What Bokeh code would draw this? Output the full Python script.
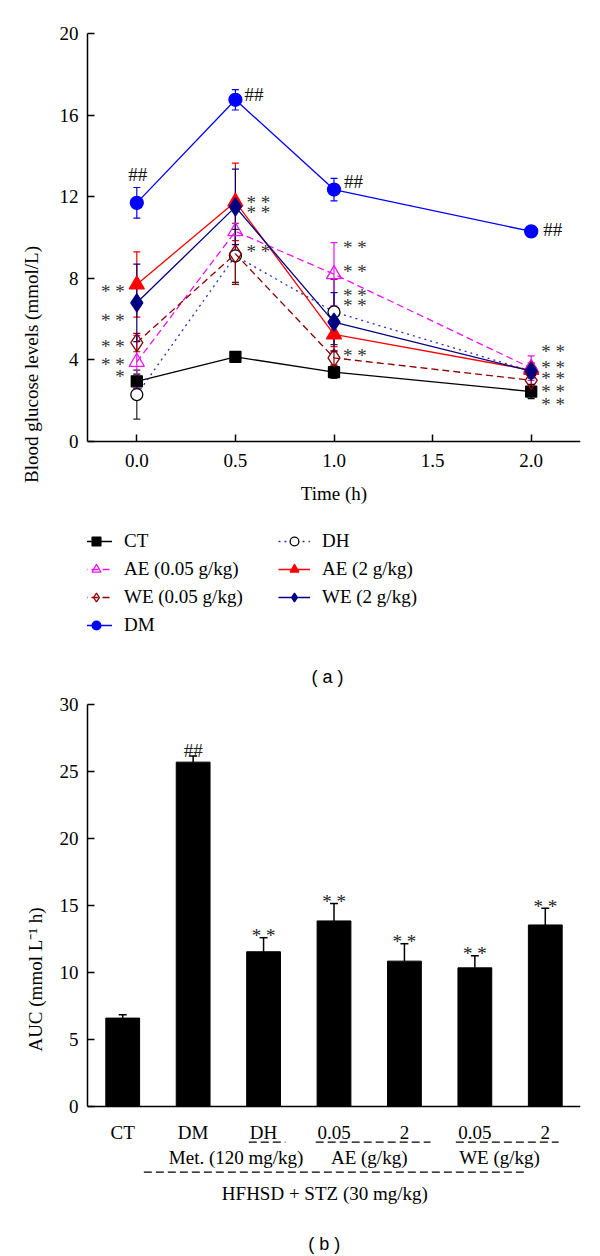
import numpy as np
from bokeh.plotting import figure
from bokeh.models import (ColumnDataSource, Range1d, FixedTicker, Whisker, TeeHead,
                          Legend, LegendItem, NumeralTickFormatter)
from bokeh.layouts import column
from bokeh.embed import file_html
from bokeh.resources import INLINE
from bokeh.core.properties import value

# ---------------- panel (a): blood glucose over time ----------------
time_h = [0.0, 0.5, 1.0, 2.0]
ct_mean = [2.95, 4.15, 3.4, 2.45]
ct_err = [0.35, 0.2, 0.3, 0.35]
dh_mean = [2.3, 9.1, 6.35, 3.45]
dh_err = [1.2, 1.3, 1.6, 0.3]
ae005_mean = [3.9, 10.3, 8.2, 3.6]
ae005_err = [1.3, 1.1, 1.55, 0.6]
ae2_mean = [7.7, 11.75, 5.25, 3.5]
ae2_err = [1.6, 1.9, 0.6, 0.35]
we005_mean = [4.85, 9.2, 4.1, 3.0]
we005_err = [0.45, 1.5, 0.35, 0.3]
we2_mean = [6.8, 11.5, 5.85, 3.45]
we2_err = [1.9, 1.85, 1.45, 0.35]
dm_mean = [11.7, 16.75, 12.35, 10.3]
dm_err = [0.75, 0.5, 0.55, 0.12]

series_names = ["CT", "DH", "AE (0.05 g/kg)", "AE (2 g/kg)", "WE (0.05 g/kg)", "WE (2 g/kg)", "DM"]
series_means = [ct_mean, dh_mean, ae005_mean, ae2_mean, we005_mean, we2_mean, dm_mean]
series_errs = [ct_err, dh_err, ae005_err, ae2_err, we005_err, we2_err, dm_err]

# significance marks (panel a)
hash_time = [0.0, 0.5, 1.0, 2.0]
hash_level = [13.09, 17.0, 12.75, 10.39]
hash_text = ["##", "##", "##", "##"]
star_time = [0, 0, 0, 0, 0, 0.5, 0.5, 0.5, 1, 1, 1, 1, 1, 2, 2, 2, 2, 2]
star_level = [7.55, 6.13, 4.87, 3.97, 3.4, 11.9, 11.4, 9.52,
              9.72, 8.51, 7.37, 6.88, 4.41, 4.59, 3.84, 3.28, 2.63, 2.01]
star_text = ["* *"] * 4 + ["*"] + ["* *"] * 13

y_ticks_a = [0, 4, 8, 12, 16, 20]
x_ticks_a = [0.0, 0.5, 1.0, 1.5, 2.0]

# ---------------- panel (b): AUC ----------------
auc_groups = ["CT", "DM", "DH", "0.05", "2", "0.05", "2"]
auc_mean = [6.6, 25.7, 11.55, 13.85, 10.85, 10.35, 13.55]
auc_err = [0.25, 0.45, 1.05, 1.3, 1.3, 0.9, 1.25]
auc_sig = ["", "##", "* *", "* *", "* *", "* *", "* *"]
group_labels = ["Met. (120 mg/kg)", "AE (g/kg)", "WE (g/kg)"]
treatment_label = "HFHSD + STZ (30 mg/kg)"
y_ticks_b = [0, 5, 10, 15, 20, 25, 30]

SERIF = "Liberation Serif"
FS = "19px"

styles = {
    "CT": dict(color="#000000", dash="solid", marker="square", size=11, fill="#000000", line="#000000", err="#000000"),
    "DH": dict(color="#2a2ad0", dash="2 4", marker="circle", size=12, fill="#ffffff", line="#000000", err="#222222"),
    "AE (0.05 g/kg)": dict(color="#ee11ee", dash="7 4", marker="triangle", size=15, fill=None, line="#ee11ee", err="#ee11ee"),
    "AE (2 g/kg)": dict(color="#ff0000", dash="solid", marker="triangle", size=15, fill="#ff0000", line="#ff0000", err="#ff0000"),
    "WE (0.05 g/kg)": dict(color="#8b0000", dash="7 4", marker="diamond", size=18, fill=None, line="#8b0000", err="#8b0000"),
    "WE (2 g/kg)": dict(color="#000080", dash="solid", marker="diamond", size=18, fill="#000080", line="#000080", err="#000080"),
    "DM": dict(color="#0000ff", dash="solid", marker="circle", size=13, fill="#0000ff", line="#0000ff", err="#0000ff"),
}


def style_axes(p):
    p.outline_line_color = None
    p.grid.visible = False
    p.background_fill_color = "white"
    p.border_fill_color = "white"
    for ax in [p.xaxis, p.yaxis]:
        ax.axis_line_width = 1.5
        ax.axis_line_color = "#000000"
        ax.major_tick_line_color = "#000000"
        ax.major_tick_line_width = 1.5
        ax.minor_tick_line_color = None
        ax.major_label_text_font = SERIF
        ax.major_label_text_font_size = FS
        ax.major_label_text_color = "#000000"
        ax.axis_label_text_font = SERIF
        ax.axis_label_text_font_size = FS
        ax.axis_label_text_font_style = "normal"
        ax.axis_label_text_color = "#000000"


# ================= figure (a) =================
p1 = figure(width=600, height=695, x_range=Range1d(-0.25, 2.25), y_range=Range1d(-12.45, 20),
            output_backend="svg", toolbar_location=None,
            min_border_left=79, min_border_right=20, min_border_top=33, min_border_bottom=0)
style_axes(p1)
p1.xaxis.fixed_location = 0
p1.xaxis.ticker = FixedTicker(ticks=x_ticks_a)
p1.xaxis.formatter = NumeralTickFormatter(format="0.0")
p1.xaxis.major_tick_in = 7
p1.xaxis.major_tick_out = 0
p1.xaxis.major_label_standoff = 12
p1.xaxis.axis_label = "Time (h)"
p1.xaxis.axis_label_standoff = 13
p1.yaxis.bounds = (0, 20)
p1.yaxis.ticker = FixedTicker(ticks=y_ticks_a)
p1.yaxis.major_tick_in = 7
p1.yaxis.major_tick_out = 0
p1.yaxis.major_label_standoff = 9
p1.yaxis.axis_label = "Blood glucose levels (mmol/L)"
p1.yaxis.axis_label_standoff = 15

legend_map = {}
for name, mean, err in zip(series_names, series_means, series_errs):
    st = styles[name]
    upper = [m + e for m, e in zip(mean, err)]
    lower = [m - e for m, e in zip(mean, err)]
    src = ColumnDataSource(dict(x=time_h, y=mean, upper=upper, lower=lower))
    wk = Whisker(base="x", upper="upper", lower="lower", source=src,
                 line_color=st["err"], line_width=1.2,
                 upper_head=TeeHead(size=7, line_color=st["err"], line_width=1.2),
                 lower_head=TeeHead(size=7, line_color=st["err"], line_width=1.2))
    p1.add_layout(wk)
    lr = p1.line("x", "y", source=src, line_color=st["color"], line_dash=st["dash"], line_width=1.3)
    sr = p1.scatter("x", "y", source=src, marker=st["marker"], size=st["size"],
                    fill_color=st["fill"], line_color=st["line"], line_width=1.3)
    legend_map[name] = [lr, sr]

legend_order = ["CT", "AE (0.05 g/kg)", "WE (0.05 g/kg)", "DM", "DH", "AE (2 g/kg)", "WE (2 g/kg)"]
legend = Legend(items=[LegendItem(label=n, renderers=legend_map[n]) for n in legend_order],
                location=(-7, 59), orientation="vertical", nrows=4,
                glyph_width=32, glyph_height=22, label_height=22, label_width=148,
                label_standoff=12, spacing=6, padding=0, margin=0,
                border_line_color=None, background_fill_alpha=0,
                label_text_font=SERIF, label_text_font_size=FS, label_text_color="#000000")
p1.add_layout(legend)

hsrc = ColumnDataSource(dict(x=hash_time, y=hash_level, t=hash_text,
                             align=["center", "left", "left", "left"], dx=[1, 9, 10, 12]))
p1.text("x", "y", text="t", source=hsrc, text_align="align", x_offset="dx",
        text_baseline="middle", text_font=value(SERIF), text_font_size=FS, text_color="#111111")

star_align = ["right" if t == 0 else "left" for t in star_time]
star_dx = [-12 if t == 0 else (11 if t == 0.5 else 9 if t == 1 else 10) for t in star_time]
ssrc = ColumnDataSource(dict(x=star_time, y=star_level, t=star_text, align=star_align, dx=star_dx))
p1.text("x", "y", text="t", source=ssrc, text_align="align", x_offset="dx", y_offset=4,
        text_baseline="middle", text_font=value(SERIF), text_font_size=FS, text_color="#333333")

p1.text(x=[0.967], y=[-11.52], text=["( a )"], text_align="center", text_baseline="middle",
        text_font=value("Liberation Sans"), text_font_size="18px", text_color="#000000")

# ================= figure (b) =================
idx = list(range(len(auc_groups)))
p2 = figure(width=600, height=559, x_range=Range1d(-0.5, 6.5), y_range=Range1d(-11.04, 30),
            output_backend="svg", toolbar_location=None,
            min_border_left=87, min_border_right=20, min_border_top=9, min_border_bottom=0)
style_axes(p2)
p2.xaxis.fixed_location = 0
p2.xaxis.ticker = FixedTicker(ticks=idx)
p2.xaxis.major_label_overrides = {i: g for i, g in zip(idx, auc_groups)}
p2.xaxis.major_tick_in = 0
p2.xaxis.major_tick_out = 0
p2.xaxis.major_label_standoff = 15
p2.yaxis.bounds = (0, 30)
p2.yaxis.ticker = FixedTicker(ticks=y_ticks_b)
p2.yaxis.major_tick_in = 7
p2.yaxis.major_tick_out = 0
p2.yaxis.major_label_standoff = 9
p2.yaxis.axis_label = "AUC (mmol L\u207b\u00b9 h)"
p2.yaxis.axis_label_standoff = 11

bsrc = ColumnDataSource(dict(x=idx, top=auc_mean,
                             upper=[m + e for m, e in zip(auc_mean, auc_err)],
                             sig=auc_sig,
                             dy=[-6 if s == "##" else -2 for s in auc_sig]))
p2.add_layout(Whisker(base="x", upper="upper", lower="top", source=bsrc,
                      line_color="#000000", line_width=1.5,
                      upper_head=TeeHead(size=8, line_color="#000000", line_width=1.5),
                      lower_head=None))
p2.vbar(x="x", top="top", width=0.48, source=bsrc, fill_color="#000000", line_color="#000000")
p2.text("x", "upper", text="sig", source=bsrc, text_align="center", text_baseline="alphabetic",
        y_offset="dy", text_font=value(SERIF), text_font_size=FS, text_color="#222222")

# group annotations below the axis
p2.segment(x0=[1.79, 2.74, 4.73, 0.30], y0=[-2.66, -2.66, -2.66, -4.90],
           x1=[2.31, 4.37, 6.19, 5.75], y1=[-2.66, -2.66, -2.66, -4.90],
           line_color="#000000", line_width=1.3, line_dash="8 4")
p2.text(x=[1.61, 3.50, 5.35], y=[-3.78, -3.78, -3.78], text=group_labels,
        text_align="center", text_baseline="middle",
        text_font=value(SERIF), text_font_size=FS, text_color="#000000")
p2.text(x=[2.87], y=[-6.49], text=[treatment_label], text_align="center", text_baseline="middle",
        text_font=value(SERIF), text_font_size=FS, text_color="#000000")
p2.text(x=[2.86], y=[-10.22], text=["( b )"], text_align="center", text_baseline="middle",
        text_font=value("Liberation Sans"), text_font_size="18px", text_color="#000000")

layout = column(p1, p2, spacing=0)
open("out.html", "w").write(file_html(layout, INLINE))
